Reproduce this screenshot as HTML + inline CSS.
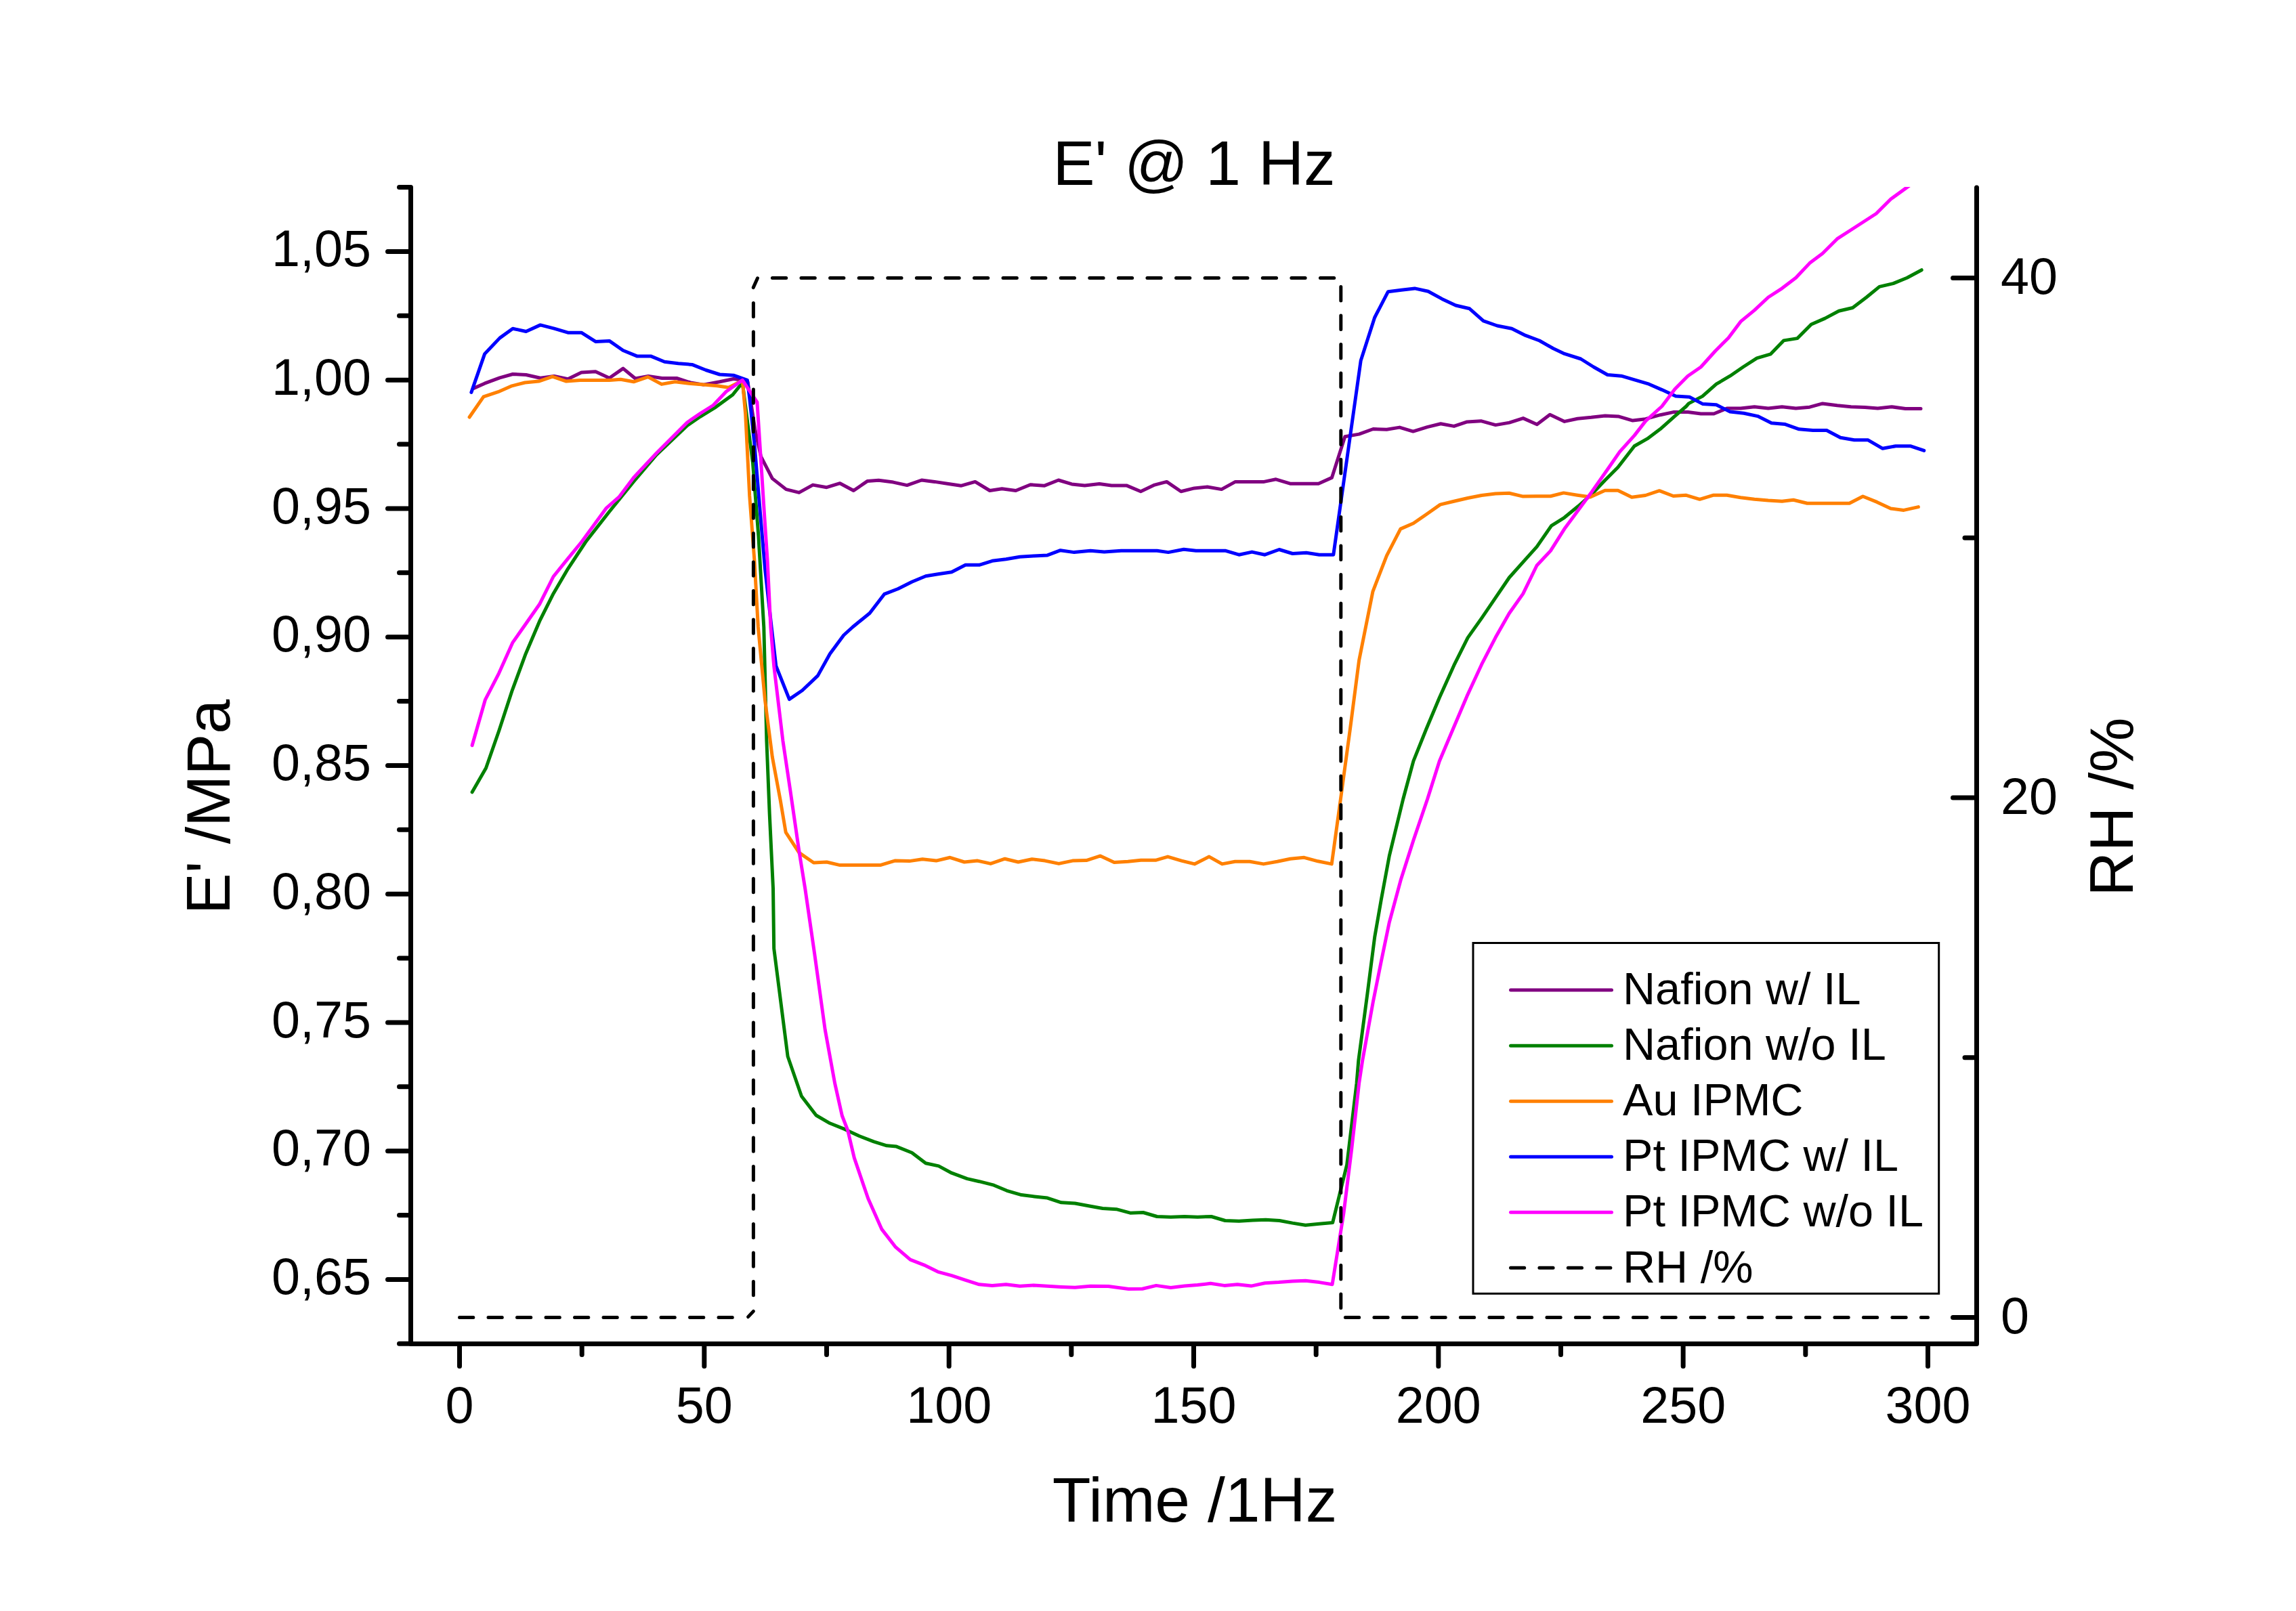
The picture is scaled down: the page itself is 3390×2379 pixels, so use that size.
<!DOCTYPE html><html><head><meta charset="utf-8"><title>E' @ 1 Hz</title><style>html,body{margin:0;padding:0;background:#fff}svg{display:block}text{font-family:"Liberation Sans",sans-serif;fill:#000}</style></head><body>
<svg width="3390" height="2379" viewBox="0 0 3390 2379">
<rect width="3390" height="2379" fill="#fff"/>
<defs><clipPath id="cp"><rect x="610" y="276" width="2305" height="1705"/></clipPath></defs>
<g clip-path="url(#cp)" fill="none" stroke-width="5" stroke-linejoin="round" stroke-linecap="round">
<polyline stroke="#800080" points="699.5,573.4 715.6,566.2 737.9,557.8 757.1,552.5 776.7,553.5 797.8,558.3 818.2,555.4 838.5,559.7 858.4,549.9 879.3,548.7 899.7,558.3 920.0,544.1 938.0,559.0 957.2,555.4 977.5,558.5 999.1,558.5 1019.5,565.0 1038.7,568.1 1062.6,563.8 1083.0,559.5 1096.2,561.4 1104.0,564.0 1115.1,635.9 1123.5,674.2 1140.3,706.6 1160.7,722.6 1179.8,727.4 1200.2,716.1 1220.6,719.7 1240.2,713.7 1260.3,724.5 1280.5,710.6 1297.3,709.2 1318.8,712.1 1339.2,716.6 1360.8,709.0 1379.9,711.4 1400.3,714.5 1418.8,717.3 1439.8,711.4 1461.4,724.5 1479.4,721.7 1499.8,724.5 1521.3,715.7 1541.7,717.3 1562.8,709.0 1582.4,714.9 1601.6,716.9 1623.2,714.5 1641.2,716.9 1663.2,716.9 1684.3,725.7 1704.7,716.1 1722.6,711.4 1743.7,725.7 1763.4,720.9 1782.6,719.0 1803.6,722.6 1824.0,711.4 1846.1,711.4 1866.4,711.4 1883.9,707.8 1904.8,714.2 1926.3,714.2 1946.7,714.2 1966.4,705.4 1985.8,644.7 2006.6,641.1 2027.5,633.5 2047.4,634.2 2066.5,631.1 2086.4,637.1 2107.3,630.6 2127.2,625.8 2146.8,629.4 2166.2,622.9 2186.6,621.7 2208.2,627.6 2228.5,624.1 2248.9,617.6 2269.3,626.7 2288.4,612.3 2310.0,622.4 2329.2,618.2 2349.5,616.3 2369.9,613.9 2390.3,615.1 2410.7,621.1 2429.8,618.7 2451.4,612.7 2470.6,608.6 2492.1,608.6 2511.3,611.0 2530.5,611.0 2549.7,603.1 2570.0,603.1 2590.4,600.7 2610.8,603.1 2631.1,600.7 2651.5,603.1 2671.9,601.2 2691.0,595.9 2712.6,598.8 2733.0,600.7 2753.4,601.4 2772.5,603.1 2792.9,600.7 2813.3,603.6 2836.0,603.6"/>
<polyline stroke="#008000" points="697.1,1169.8 717.5,1134.3 736.7,1079.2 755.9,1020.5 776.2,965.4 796.6,917.4 817.0,876.7 837.3,841.9 864.9,800.0 899.7,755.5 935.6,711.2 969.2,671.6 1014.7,628.5 1033.9,615.3 1055.4,602.1 1081.8,583.0 1096.2,565.0 1111.5,683.8 1119.9,791.6 1127.8,926.1 1131.9,1093.8 1136.2,1201.6 1141.5,1312.1 1142.7,1400.7 1163.1,1560.0 1183.4,1618.8 1205.0,1647.0 1225.4,1658.8 1246.9,1667.4 1268.5,1677.5 1290.1,1685.9 1309.2,1691.8 1323.6,1693.1 1346.4,1702.2 1366.8,1717.8 1385.9,1721.9 1405.1,1732.2 1427.9,1740.6 1445.8,1744.7 1467.4,1750.2 1486.6,1758.3 1508.2,1764.6 1527.3,1767.0 1546.5,1769.1 1566.9,1775.8 1587.2,1777.0 1610.0,1781.3 1628.0,1784.5 1648.3,1785.7 1668.7,1791.2 1687.9,1790.5 1708.3,1796.5 1728.6,1797.2 1749.0,1796.5 1768.2,1797.2 1788.5,1796.5 1808.9,1802.5 1829.3,1803.2 1849.7,1802.0 1868.8,1801.3 1889.2,1802.5 1908.4,1806.1 1927.5,1809.2 1947.9,1807.3 1967.6,1805.6 1988.7,1719.8 2003.0,1600.0 2005.8,1566.1 2018.9,1467.6 2029.7,1383.7 2039.3,1328.6 2051.3,1263.9 2071.7,1180.0 2086.9,1123.9 2106.1,1076.0 2125.3,1030.3 2146.8,982.4 2167.2,941.6 2187.6,912.9 2208.0,882.9 2228.3,853.0 2248.7,830.2 2269.1,807.4 2290.6,776.3 2309.8,764.3 2330.2,747.5 2350.5,729.5 2369.7,709.2 2388.9,690.0 2413.1,658.7 2432.2,647.9 2451.4,633.6 2473.0,614.4 2489.7,600.0 2493.3,595.9 2513.7,585.1 2534.1,567.2 2554.4,555.2 2573.6,542.0 2594.0,528.8 2614.4,522.8 2633.5,502.9 2653.9,499.6 2674.3,479.0 2694.6,470.1 2715.0,459.3 2735.4,454.5 2755.8,439.0 2774.9,423.4 2795.3,418.6 2815.7,410.2 2837.2,398.7"/>
<polyline stroke="#FF8000" points="693.1,616.0 713.9,585.8 735.5,578.7 755.9,569.8 775.0,565.0 795.4,563.1 815.8,556.1 836.1,563.1 856.5,561.4 879.3,561.4 899.7,561.4 916.4,560.2 935.6,563.8 956.7,556.6 976.8,567.4 996.7,563.8 1017.1,566.2 1038.7,568.1 1059.0,569.8 1075.8,572.2 1096.2,561.9 1100.7,611.9 1106.7,731.7 1113.9,827.6 1119.4,926.0 1129.5,1033.8 1140.3,1117.7 1152.3,1182.4 1160.2,1229.2 1179.8,1259.1 1201.4,1274.0 1220.6,1273.0 1240.2,1277.6 1270.9,1277.6 1299.7,1277.6 1321.2,1271.1 1342.8,1271.6 1362.0,1268.7 1382.3,1271.1 1402.7,1266.3 1423.8,1273.0 1443.4,1271.1 1462.6,1275.4 1483.7,1268.2 1503.4,1273.0 1523.7,1268.7 1542.9,1271.1 1563.3,1275.4 1583.6,1271.1 1604.0,1270.6 1624.7,1263.9 1645.1,1273.5 1665.4,1272.3 1684.6,1270.3 1706.2,1270.3 1724.2,1265.1 1744.5,1271.1 1763.7,1275.9 1785.3,1265.1 1804.4,1275.9 1823.6,1272.3 1845.2,1272.3 1865.6,1275.9 1885.9,1272.3 1905.1,1268.2 1925.5,1266.3 1945.8,1271.8 1966.2,1275.9 1979.4,1180.0 1993.5,1076.1 2006.6,975.2 2027.0,873.3 2047.4,820.6 2067.8,781.1 2086.9,772.7 2106.1,759.5 2126.5,745.1 2146.8,740.3 2167.2,735.5 2187.6,731.5 2208.0,729.1 2228.3,728.3 2248.7,733.1 2269.1,732.7 2289.4,732.7 2308.6,727.9 2329.0,731.2 2348.2,733.9 2369.7,724.3 2388.9,724.3 2409.3,734.3 2429.6,731.5 2450.0,724.7 2470.6,732.5 2489.7,731.3 2509.6,737.3 2529.3,731.3 2549.7,731.3 2570.0,734.7 2590.4,737.3 2610.8,739.0 2631.1,740.2 2647.9,738.3 2668.3,743.3 2688.7,743.3 2710.2,743.3 2730.6,743.3 2750.5,733.0 2771.3,741.4 2791.7,751.0 2810.9,753.4 2832.4,748.6"/>
<polyline stroke="#0000FF" points="695.9,579.4 715.6,522.6 737.9,499.1 757.1,485.2 776.7,489.5 797.8,479.9 818.2,485.2 838.5,491.2 858.4,491.2 879.3,504.4 899.7,503.4 920.0,517.5 940.4,525.9 960.8,525.9 981.1,534.3 1001.5,536.7 1021.9,538.4 1042.2,546.5 1062.6,553.0 1083.0,554.2 1103.4,561.4 1106.7,587.9 1113.9,655.0 1122.3,755.7 1129.5,839.6 1139.1,926.0 1145.8,983.5 1165.4,1032.6 1184.6,1019.5 1207.4,997.9 1225.4,965.5 1245.7,938.0 1258.9,926.0 1284.1,905.5 1305.6,877.4 1326.0,869.5 1346.4,859.2 1366.8,850.8 1383.5,848.0 1405.1,844.8 1425.5,834.3 1445.8,834.3 1465.0,828.3 1485.4,825.7 1505.8,822.3 1526.1,820.9 1546.5,819.9 1565.7,812.7 1586.0,815.6 1610.0,813.2 1630.4,815.1 1655.5,813.2 1689.1,813.2 1708.3,813.2 1725.0,815.6 1747.8,811.3 1765.8,813.2 1786.1,813.2 1808.9,813.2 1829.3,819.2 1848.5,815.1 1867.6,819.2 1888.7,811.5 1908.4,817.5 1928.7,816.3 1947.9,819.2 1968.8,819.2 2009.2,532.5 2029.6,469.0 2049.5,430.7 2069.2,428.3 2088.8,425.9 2108.7,430.2 2129.1,441.4 2149.4,451.0 2169.8,455.8 2190.2,473.8 2210.5,481.0 2232.1,485.3 2252.5,495.4 2272.9,503.0 2293.2,514.5 2310.0,522.4 2334.0,530.0 2353.1,542.0 2373.5,553.5 2393.9,555.2 2414.2,561.2 2434.6,567.2 2453.8,575.6 2474.2,585.1 2494.5,586.3 2513.7,596.4 2534.1,597.8 2554.4,607.9 2574.8,610.3 2595.2,614.6 2615.6,624.7 2635.9,626.6 2656.3,633.8 2676.7,635.5 2697.0,635.5 2717.4,646.3 2737.8,649.8 2758.2,649.8 2779.7,662.3 2798.9,658.7 2820.5,658.7 2840.8,665.4"/>
<polyline stroke="#FF00FF" points="697.1,1100.8 716.3,1033.7 736.7,994.1 757.1,948.6 777.4,919.8 796.6,892.3 817.0,851.5 837.3,826.4 858.9,800.0 894.9,750.7 914.0,733.9 935.6,705.2 969.2,669.2 1014.7,623.7 1033.9,610.5 1053.0,598.5 1072.2,578.2 1096.2,561.4 1117.9,594.0 1122.8,669.4 1128.3,755.7 1133.1,827.6 1137.9,926.0 1142.7,983.5 1155.9,1093.8 1166.6,1165.7 1179.8,1256.7 1188.7,1312.0 1202.6,1407.9 1218.2,1520.5 1232.6,1599.6 1243.3,1647.5 1251.7,1669.2 1261.3,1709.9 1281.7,1769.8 1302.0,1815.4 1322.4,1841.7 1344.0,1860.2 1364.4,1868.1 1384.7,1878.1 1405.1,1883.7 1425.5,1890.4 1445.8,1896.8 1465.0,1898.5 1485.4,1896.8 1505.8,1899.2 1526.1,1898.0 1546.5,1899.2 1566.9,1900.4 1587.2,1901.2 1610.0,1899.2 1636.4,1899.6 1666.3,1903.6 1686.7,1903.2 1707.1,1898.4 1728.6,1901.5 1749.0,1899.1 1768.2,1897.6 1787.3,1895.3 1807.7,1898.4 1826.9,1896.7 1847.3,1899.1 1867.6,1894.8 1888.0,1893.6 1908.4,1891.9 1927.5,1891.2 1947.9,1893.6 1967.1,1896.7 1983.9,1791.7 1995.8,1695.9 2006.6,1600.0 2011.7,1566.1 2027.3,1479.6 2039.3,1419.7 2051.3,1362.1 2068.1,1299.8 2087.2,1239.9 2107.6,1180.0 2125.3,1123.9 2145.6,1076.0 2166.0,1027.9 2187.6,981.2 2208.0,941.6 2228.3,905.7 2248.7,876.9 2269.1,835.0 2289.4,813.4 2309.8,781.1 2330.2,753.5 2350.5,725.9 2375.7,690.0 2391.5,667.1 2413.1,643.1 2429.8,621.6 2453.8,600.0 2473.0,574.4 2492.1,555.2 2511.3,542.0 2532.9,518.0 2552.0,498.9 2570.0,474.9 2590.4,458.1 2610.8,439.0 2631.1,425.8 2651.5,410.2 2671.9,388.6 2691.0,374.2 2712.6,352.7 2733.0,339.5 2770.1,315.5 2791.7,294.0 2813.3,278.4 2834.8,262.8"/>
</g>
<g fill="none" stroke="#000" stroke-width="5" stroke-linecap="round" stroke-dasharray="20.3 22.2">
<path d="M678.5,1945.5 H1083"/>
<path d="M1112.4,447.4 V1914"/>
<path d="M1140.4,410.5 H1971" stroke-dasharray="20.3 22.279999999999998"/>
<path d="M1979.8,423.6 V1932.5"/>
<path d="M1986.4,1945.5 H2846.5"/>
</g>
<g fill="none" stroke="#000" stroke-width="5" stroke-linecap="round">
<path d="M1104.6,1944.6 L1112.4,1936.4"/>
<path d="M1112.3,424.6 L1118.4,410.9"/>
</g>
<g stroke="#000" stroke-width="7" fill="none" stroke-linejoin="round" stroke-linecap="round">
<path d="M606.5,276.6 V1984.4 H2918.5 V277"/>
</g>
<g stroke="#000" stroke-width="7" stroke-linecap="round" fill="none">
<path d="M572.5,371.50 H604"/>
<path d="M572.5,561.25 H604"/>
<path d="M572.5,751.00 H604"/>
<path d="M572.5,940.75 H604"/>
<path d="M572.5,1130.50 H604"/>
<path d="M572.5,1320.25 H604"/>
<path d="M572.5,1510.00 H604"/>
<path d="M572.5,1699.75 H604"/>
<path d="M572.5,1889.50 H604"/>
<path d="M589.5,276.60 H604"/>
<path d="M589.5,466.35 H604"/>
<path d="M589.5,656.10 H604"/>
<path d="M589.5,845.85 H604"/>
<path d="M589.5,1035.60 H604"/>
<path d="M589.5,1225.35 H604"/>
<path d="M589.5,1415.10 H604"/>
<path d="M589.5,1604.85 H604"/>
<path d="M589.5,1794.60 H604"/>
<path d="M589.5,1984.35 H604"/>
<path d="M2883.5,1945.50 H2916"/>
<path d="M2883.5,1178.00 H2916"/>
<path d="M2883.5,410.50 H2916"/>
<path d="M2901,1561.75 H2916"/>
<path d="M2901,794.25 H2916"/>
<path d="M678.50,1986 V2017.5"/>
<path d="M1039.83,1986 V2017.5"/>
<path d="M1401.17,1986 V2017.5"/>
<path d="M1762.50,1986 V2017.5"/>
<path d="M2123.83,1986 V2017.5"/>
<path d="M2485.16,1986 V2017.5"/>
<path d="M2846.50,1986 V2017.5"/>
<path d="M859.17,1986 V2000.5"/>
<path d="M1220.50,1986 V2000.5"/>
<path d="M1581.83,1986 V2000.5"/>
<path d="M1943.17,1986 V2000.5"/>
<path d="M2304.50,1986 V2000.5"/>
<path d="M2665.83,1986 V2000.5"/>
</g>
<g font-size="75.5">
<text x="548" y="393.00" text-anchor="end">1,05</text>
<text x="548" y="582.75" text-anchor="end">1,00</text>
<text x="548" y="772.50" text-anchor="end">0,95</text>
<text x="548" y="962.25" text-anchor="end">0,90</text>
<text x="548" y="1152.00" text-anchor="end">0,85</text>
<text x="548" y="1341.75" text-anchor="end">0,80</text>
<text x="548" y="1531.50" text-anchor="end">0,75</text>
<text x="548" y="1721.25" text-anchor="end">0,70</text>
<text x="548" y="1911.00" text-anchor="end">0,65</text>
<text x="678.50" y="2101" text-anchor="middle">0</text>
<text x="1039.83" y="2101" text-anchor="middle">50</text>
<text x="1401.17" y="2101" text-anchor="middle">100</text>
<text x="1762.50" y="2101" text-anchor="middle">150</text>
<text x="2123.83" y="2101" text-anchor="middle">200</text>
<text x="2485.16" y="2101" text-anchor="middle">250</text>
<text x="2846.50" y="2101" text-anchor="middle">300</text>
<text x="2954" y="1969.10">0</text>
<text x="2954" y="1201.60">20</text>
<text x="2954" y="434.10">40</text>
</g>
<g font-size="93">
<text x="1763" y="273" text-anchor="middle">E' @ 1 Hz</text>
<text x="1764" y="2247.3" text-anchor="middle">Time /1Hz</text>
<text font-size="91.5" transform="translate(338.6,1191.5) rotate(-90)" text-anchor="middle">E' /MPa</text>
<text font-size="91.5" transform="translate(3149,1191.5) rotate(-90)" text-anchor="middle">RH /%</text>
</g>
<rect x="2175" y="1392.5" width="687.7" height="517.8" fill="#fff" stroke="#000" stroke-width="3"/>
<g font-size="66.6" stroke-width="5" stroke-linecap="round">
<path d="M2230.5,1462.10 H2379.5" stroke="#800080"/>
<text x="2396" y="1483.30">Nafion w/ IL</text>
<path d="M2230.5,1544.14 H2379.5" stroke="#008000"/>
<text x="2396" y="1565.34">Nafion w/o IL</text>
<path d="M2230.5,1626.18 H2379.5" stroke="#FF8000"/>
<text x="2396" y="1647.38">Au IPMC</text>
<path d="M2230.5,1708.22 H2379.5" stroke="#0000FF"/>
<text x="2396" y="1729.42">Pt IPMC w/ IL</text>
<path d="M2230.5,1790.26 H2379.5" stroke="#FF00FF"/>
<text x="2396" y="1811.46">Pt IPMC w/o IL</text>
<path d="M2230.5,1872.30 H2379.5" stroke="#000" stroke-dasharray="20.2 22.2"/>
<text x="2396" y="1893.50">RH /%</text>
</g>
</svg></body></html>
